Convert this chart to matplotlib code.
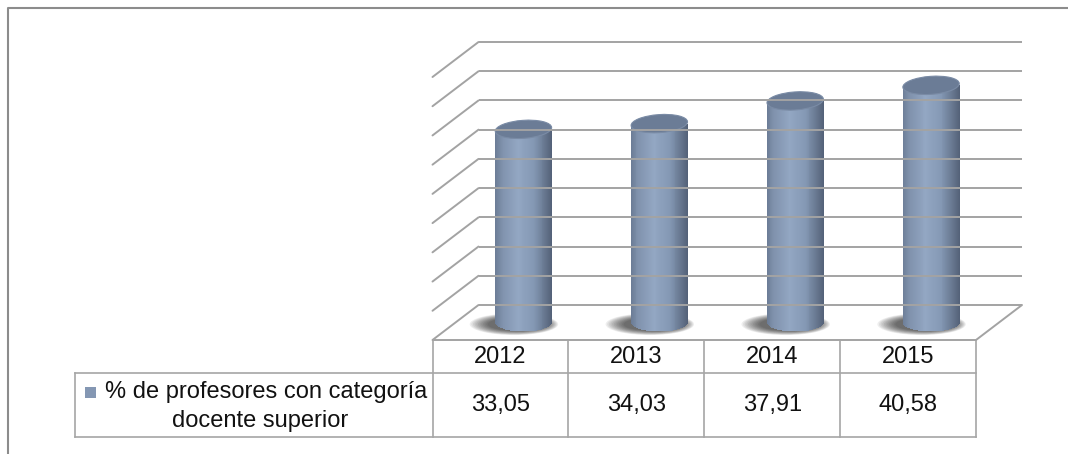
import numpy as np
import matplotlib
matplotlib.use("Agg")
import matplotlib.pyplot as plt
from matplotlib.patches import Rectangle, Ellipse, ConnectionPatch
from matplotlib.transforms import offset_copy, Affine2D, blended_transform_factory
from matplotlib.colors import LinearSegmentedColormap

# data
years = ["2012", "2013", "2014", "2015"]
values = [33.05, 34.03, 37.91, 40.58]
value_labels = ["33,05", "34,03", "37,91", "40,58"]
series_name = ["% de profesores con categoría", "docente superior"]
y_max = 45
y_step = 5

W, H = 1068, 454
DPI = 100
plt.rcParams['font.family'] = ['Liberation Sans', 'DejaVu Sans']

fig = plt.figure(figsize=(W / DPI, H / DPI), dpi=DPI)
fig.patch.set_facecolor("white")

# front plane of the 3d box (pixel geometry of the reference)
x0, x1, y_floor, y_top = 432.5, 976, 340, 77
ax = fig.add_axes([x0 / W, (H - y_floor) / H, (x1 - x0) / W, (y_floor - y_top) / H])
ax.set_xlim(-0.5, len(years) - 0.5)
ax.set_ylim(0, y_max)
ax.axis("off")

depth_x, depth_y = 46, 35
back = offset_copy(ax.transData, fig=fig, x=depth_x, y=depth_y, units="dots")
mid = offset_copy(ax.transData, fig=fig, x=depth_x / 2, y=depth_y / 2, units="dots")
px = Affine2D().scale(1, -1).translate(0, H)          # image pixel coords
tb = blended_transform_factory(ax.transData, px)

grid_c = "#a3a3a3"
grid_lw = 1.4
xl, xr = -0.5, len(years) - 0.5

# back wall gridlines and left wall diagonals
for v in np.arange(0, y_max + 0.1, y_step):
    ax.plot([xl, xr], [v, v], color=grid_c, lw=grid_lw, transform=back,
            clip_on=False, solid_capstyle="butt")
    cp = ConnectionPatch(xyA=(xl, v), coordsA=ax.transData, xyB=(xl, v), coordsB=back,
                         color=grid_c, lw=grid_lw, arrowstyle="-")
    fig.add_artist(cp)

# floor front and right edges
ax.plot([xl, xr], [0, 0], color=grid_c, lw=grid_lw, clip_on=False, solid_capstyle="butt")
fig.add_artist(ConnectionPatch(xyA=(xr, 0), coordsA=ax.transData, xyB=(xr, 0), coordsB=back,
                               color=grid_c, lw=grid_lw, arrowstyle="-"))

# cylinders
body = LinearSegmentedColormap.from_list("body", [
    (0.0, "#6b7c95"), (0.12, "#7f91ac"), (0.4, "#93a7c3"),
    (0.68, "#8498b4"), (0.88, "#67778f"), (1.0, "#536077")])
bar_w = 0.42
ell_h = 18 / (y_floor - y_top) * y_max
n_strips = 60
for i, v in enumerate(values):
    # shadow, darker towards the left
    for k in range(12):
        f = 1 - k / 12
        ax.add_patch(Ellipse((i - 0.04 - 0.03 * f, -0.3), bar_w * (1.0 + 0.55 * f),
                             ell_h * (0.7 + 0.5 * f), transform=mid, facecolor="black",
                             edgecolor="none", alpha=0.065, clip_on=False))
    edges = np.linspace(-1, 1, n_strips + 1)
    for a, b in zip(edges[:-1], edges[1:]):
        u = (a + b) / 2
        bottom = -ell_h / 2 * np.sqrt(max(0.0, 1 - u * u))
        ax.add_patch(Rectangle((i + a * bar_w / 2, bottom), (b - a) * bar_w / 2 * 1.05, v - bottom,
                               transform=mid, facecolor=body((u + 1) / 2), edgecolor="none",
                               clip_on=False))
    cx, cy = mid.transform((i, v))
    tilt = mid + Affine2D().rotate_deg_around(cx, cy, 4)
    ax.add_patch(Ellipse((i, v), bar_w * 0.99, ell_h, transform=tilt, facecolor="#6b7c96",
                         edgecolor="#7a8ba5", lw=0.8, clip_on=False))

# data table
tcol = "#a6a6a6"
row1, row2, legend_x = 372.5, 437, 75
for k in range(len(years) + 1):
    ax.plot([xl + k, xl + k], [y_floor, row2], color=tcol, lw=1.2, transform=tb,
            clip_on=False)
ax.plot([legend_x, x1], [row1, row1], color=tcol, lw=1.2, transform=px, clip_on=False)
ax.plot([legend_x, x1], [row2, row2], color=tcol, lw=1.2, transform=px, clip_on=False)
ax.plot([legend_x, legend_x], [row1, row2], color=tcol, lw=1.2, transform=px, clip_on=False)

fs = 17
for i, (yr, lab) in enumerate(zip(years, value_labels)):
    ax.text(i, 357, yr, transform=tb, ha="center", va="center", fontsize=fs, color="#111111")
    ax.text(i, 405, lab, transform=tb, ha="center", va="center", fontsize=fs, color="#111111")

ax.add_patch(Rectangle((85, 398), 11, -11, transform=px, facecolor="#8497b3",
                       edgecolor="none", clip_on=False))
ax.text(266, 392, series_name[0], transform=px, ha="center", va="center", fontsize=fs,
        color="#111111")
ax.text(260, 421, series_name[1], transform=px, ha="center", va="center", fontsize=fs,
        color="#111111")

# outer frame
ax.plot([7.5, 7.5, W], [H, 7.5, 7.5], color="#8c8c8c", lw=1.5, transform=px, clip_on=False)

fig.savefig("out.png", dpi=DPI)
